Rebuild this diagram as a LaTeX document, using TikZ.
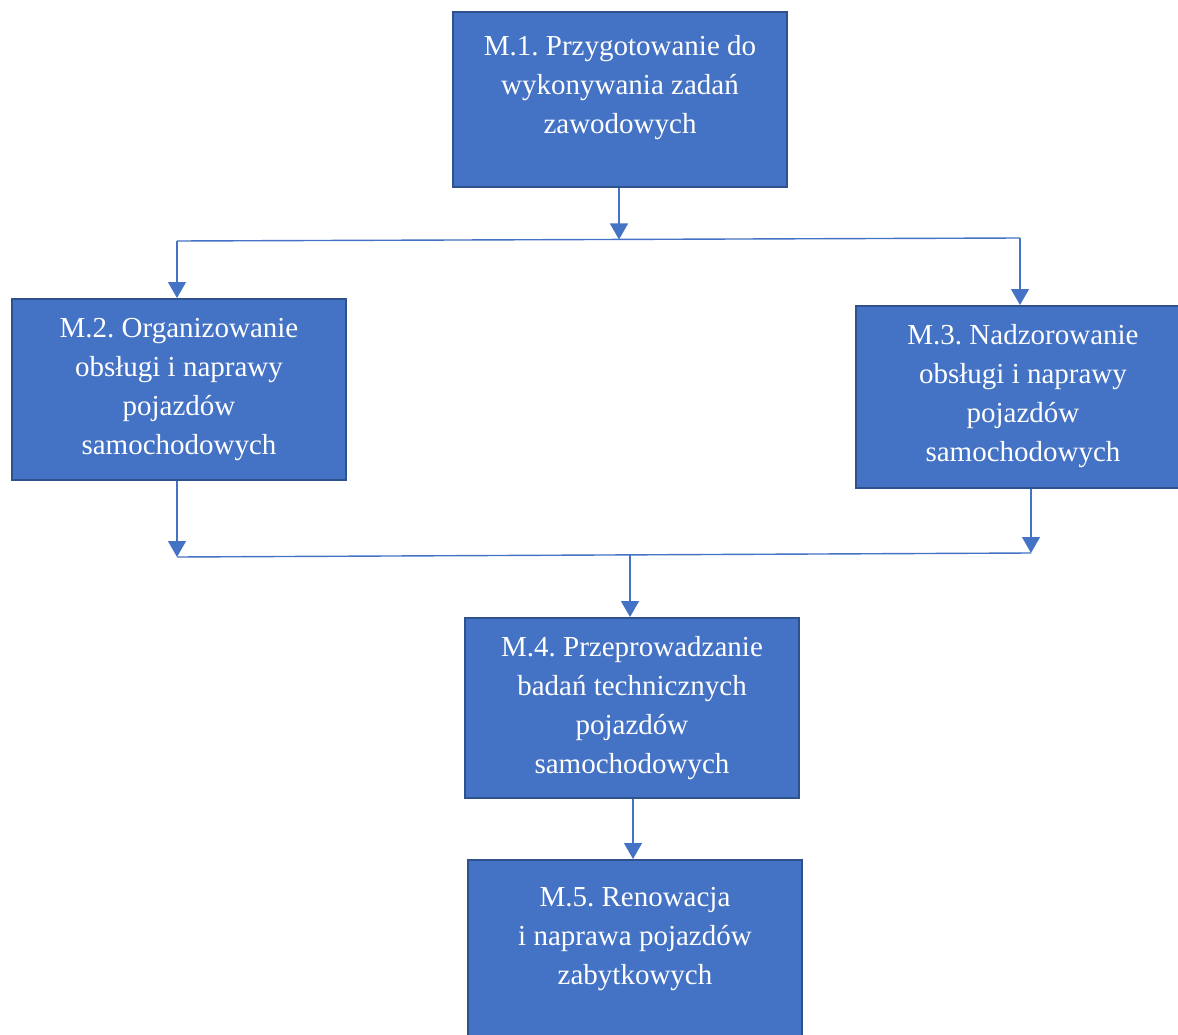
\documentclass[tikz,border=0pt]{standalone}
\usepackage{fontspec}
\setmainfont{Liberation Serif}
\usetikzlibrary{arrows.meta}
\definecolor{boxblue}{HTML}{4472C4}
\definecolor{boxedge}{HTML}{2F528F}
\newcommand\fst{\rule{0pt}{28pt}}
\frenchspacing
\begin{document}
\begin{tikzpicture}[x=1pt,y=-1pt,
  box/.style={rectangle, fill=boxblue, draw=boxedge, line width=2pt, minimum width=334pt, inner sep=0pt},
  txt/.style={text=white, align=center, anchor=north, inner sep=0pt, font=\fontsize{29}{39}\selectfont},
  conn/.style={draw=boxblue, line width=1.4pt},
  arr/.style={conn, -{Triangle[width=18pt,length=16pt]}}]
\clip (0,0) rectangle (1178,1035);
\fill[white] (0,0) rectangle (1178,1035);
% boxes
\node[box, minimum height=175pt] (m1) at (620,99.5) {};
\node[box, minimum height=181pt] (m2) at (179,389.5) {};
\node[box, minimum height=182pt] (m3) at (1023,397) {};
\node[box, minimum height=180pt] (m4) at (632,708) {};
\node[box, minimum height=200pt] (m5) at (635,960) {};
% texts
\node[txt] (t1) at (620,27) {\fst M.1. Przygotowanie do\\wykonywania zadań\\zawodowych};
\node[txt] (t2) at (179,309) {\fst M.2. Organizowanie\\obsługi i naprawy\\pojazdów\\samochodowych};
\node[txt] (t3) at (1023,316) {\fst M.3. Nadzorowanie\\obsługi i naprawy\\pojazdów\\samochodowych};
\node[txt] (t4) at (632,628) {\fst M.4. Przeprowadzanie\\badań technicznych\\pojazdów\\samochodowych};
\node[txt] (t5) at (635,878) {\fst M.5. Renowacja\\i naprawa pojazdów\\zabytkowych};
% junction points
\coordinate (aL) at (177,241);
\coordinate (aR) at (1020,238);
\coordinate (aM) at (619,239.5);
\coordinate (bL) at (177,557);
\coordinate (bR) at (1031,553);
\coordinate (bM) at (630,555);
\coordinate (cM) at (633,798);
% connectors
\draw[conn] (aL) -- (aR);
\draw[arr] (m1.south -| aM) -- (aM);
\draw[arr] (aL) -- (aL |- m2.north);
\draw[arr] (aR) -- (aR |- m3.north);
\draw[conn] (bL) -- (bR);
\draw[arr] (bL |- m2.south) -- (bL);
\draw[arr] (bR |- m3.south) -- (bR);
\draw[arr] (bM) -- (bM |- m4.north);
\draw[arr] (cM |- m4.south) -- (cM |- m5.north);
\end{tikzpicture}
\end{document}
